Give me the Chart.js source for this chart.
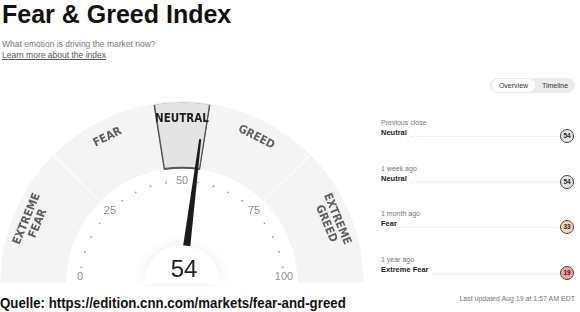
<!DOCTYPE html>
<html>
<head>
<meta charset="utf-8">
<title>Fear &amp; Greed Index</title>
<script src="https://cdn.jsdelivr.net/npm/chart.js"></script>
<style>
    body {
        margin: 0;
        width: 580px;
        height: 312px;
        overflow: hidden;
        position: relative;
        background: #fff;
        font-family: "Liberation Sans", Arial, sans-serif;
        color: #222;
    }
    h1 {
        position: absolute;
        left: 2px;
        top: 0;
        margin: 0;
        font-size: 25px;
        line-height: 29px;
        color: #111;
    }
    .sub {
        position: absolute;
        left: 2px;
        font-size: 8.5px;
        line-height: 11px;
        color: #777;
    }
    .sub.link { color: #555; text-decoration: underline; }
    #gauge {
        position: absolute;
        left: 0;
        top: 100px;
    }
    #toggle {
        position: absolute;
        left: 490px;
        top: 78px;
        width: 85px;
        height: 15px;
        border-radius: 8px;
        background: #ececec;
        font-size: 7px;
        line-height: 13px;
        color: #333;
    }
    #toggle span { position: absolute; top: 1px; height: 13px; text-align: center; }
    #toggle .on { left: 2px; width: 43px; background: #fff; border-radius: 7px; }
    #toggle .off { left: 47px; width: 36px; }
    .row {
        position: absolute;
        left: 381px;
        width: 194px;
        height: 30px;
    }
    .when { position: absolute; left: 0; top: 0; font-size: 7px; line-height: 11px; color: #777; }
    .rating { position: absolute; left: 0; top: 10px; font-size: 7.5px; line-height: 11px; font-weight: bold; color: #222; }
    .line { position: absolute; top: 19px; right: 16px; border-top: 1px dotted #e2e2e2; }
    .dot {
        position: absolute;
        right: 1px;
        top: 12px;
        width: 12px;
        height: 12px;
        border: 1px solid #444;
        border-radius: 50%;
        font-size: 6.5px;
        line-height: 12px;
        font-weight: bold;
        text-align: center;
        color: #222;
    }
    #updated {
        position: absolute;
        right: 5px;
        top: 293px;
        font-size: 7px;
        line-height: 11px;
        color: #777;
    }
    #source {
        position: absolute;
        left: 0;
        top: 294px;
        font-weight: bold;
        font-size: 14.5px;
        line-height: 18px;
        color: #111;
        white-space: nowrap;
        transform: scaleX(0.915);
        transform-origin: left center;
    }
</style>
</head>
<body>
    <h1>Fear &amp; Greed Index</h1>
    <div class="sub" style="top:39px">What emotion is driving the market now?</div>
    <div class="sub link" style="top:50px">Learn more about the index</div>
    <canvas id="gauge" width="364" height="186"></canvas>
    <div id="toggle"><span class="on">Overview</span><span class="off">Timeline</span></div>
    <div id="history"></div>
    <div id="updated">Last updated Aug 19 at 1:57 AM EDT</div>
    <div id="source">Quelle: https://edition.cnn.com/markets/fear-and-greed</div>

<script>
    // gauge zones (size of each zone on the 0-100 scale)
    const zoneNames = ['EXTREME FEAR', 'FEAR', 'NEUTRAL', 'GREED', 'EXTREME GREED'];
    const zoneSizes = [25, 20, 10, 20, 25];
    const currentZone = 'NEUTRAL';
    const currentValue = 54;

    // scale around the inside of the gauge
    const scaleLabels = [0, 25, 50, 75, 100];
    const minorTicks = [5, 10, 15, 20, 30, 35, 40, 45, 55, 60, 65, 70, 80, 85, 90, 95];

    // history panel
    const historyWhen = ['Previous close', '1 week ago', '1 month ago', '1 year ago'];
    const historyRating = ['Neutral', 'Neutral', 'Fear', 'Extreme Fear'];
    const historyValues = [54, 54, 33, 19];

    const zoneFill = { 'Extreme Fear': '#f5a3a3', 'Fear': '#fcd4be', 'Neutral': '#e6e6e6' };

    // history rows
    const hist = document.getElementById('history');
    historyWhen.forEach((w, i) => {
        const row = document.createElement('div');
        row.className = 'row';
        row.style.top = (117 + i * 45.7) + 'px';
        row.innerHTML =
            '<div class="when">' + w + '</div>' +
            '<div class="rating">' + historyRating[i] + '</div>' +
            '<div class="line"></div>' +
            '<div class="dot">' + historyValues[i] + '</div>';
        hist.appendChild(row);
        const textW = row.querySelector('.rating').offsetWidth;
        row.querySelector('.line').style.left = (textW + 4) + 'px';
        row.querySelector('.dot').style.background = zoneFill[historyRating[i]];
    });

    // angle on the half circle for a value 0..100, using the arcs chart.js laid out
    function angleOf(meta, v) {
        const first = meta.data[0], last = meta.data[meta.data.length - 1];
        return first.startAngle + (last.endAngle - first.startAngle) * v / 100;
    }

    const gaugeDecor = {
        id: 'gaugeDecor',
        afterDatasetsDraw(chart) {
            const ctx = chart.ctx;
            const meta = chart.getDatasetMeta(0);
            const arc0 = meta.data[0];
            const cx = arc0.x, cy = arc0.y;
            const R = arc0.outerRadius, r = arc0.innerRadius;

            // zone names
            ctx.save();
            ctx.textAlign = 'center';
            ctx.textBaseline = 'middle';
            meta.data.forEach((arc, i) => {
                const mid = (arc.startAngle + arc.endAngle) / 2;
                const words = zoneNames[i].split(' ');
                const rad = r + (R - r) * (words.length > 1 ? 0.72 : 0.75);
                ctx.save();
                ctx.translate(cx + Math.cos(mid) * rad, cy + Math.sin(mid) * rad);
                ctx.rotate(mid + Math.PI / 2);
                ctx.font = 'bold 11.5px "DejaVu Sans Condensed", "DejaVu Sans", sans-serif';
                ctx.fillStyle = zoneNames[i] === currentZone ? '#1e1e1e' : '#5e5e5e';
                words.forEach((w, k) => {
                    ctx.fillText(w, 0, (k - (words.length - 1) / 2) * 12);
                });
                ctx.restore();
            });
            ctx.restore();

            // minor dots and scale labels
            const tr = R * 0.565;
            ctx.save();
            ctx.fillStyle = '#9a9a9a';
            minorTicks.forEach(v => {
                const a = angleOf(meta, v);
                ctx.beginPath();
                ctx.arc(cx + Math.cos(a) * tr, cy + Math.sin(a) * tr, 0.9, 0, Math.PI * 2);
                ctx.fill();
            });
            ctx.font = '11px "Liberation Sans", Arial, sans-serif';
            ctx.textAlign = 'center';
            ctx.textBaseline = 'middle';
            ctx.fillStyle = '#8c8c8c';
            scaleLabels.forEach(v => {
                const a = angleOf(meta, v);
                const y = Math.min(cy + Math.sin(a) * tr, cy - 6);
                ctx.fillText(String(v), cx + Math.cos(a) * tr, y);
            });
            ctx.restore();

            // needle
            const na = angleOf(meta, currentValue);
            const ux = Math.cos(na), uy = Math.sin(na);
            const px = -uy, py = ux;
            const r0 = 20, r1 = R * 0.805;
            ctx.save();
            ctx.fillStyle = '#1b1b1b';
            ctx.beginPath();
            ctx.moveTo(cx + ux * r0 + px * 4, cy + uy * r0 + py * 4);
            ctx.lineTo(cx + ux * r1 + px * 1, cy + uy * r1 + py * 1);
            ctx.lineTo(cx + ux * r1 - px * 1, cy + uy * r1 - py * 1);
            ctx.lineTo(cx + ux * r0 - px * 4, cy + uy * r0 - py * 4);
            ctx.closePath();
            ctx.fill();
            ctx.restore();

            // hub
            ctx.save();
            ctx.shadowColor = 'rgba(0,0,0,0.08)';
            ctx.shadowBlur = 14;
            ctx.fillStyle = '#fff';
            ctx.beginPath();
            ctx.arc(cx, cy, 38, Math.PI, 2 * Math.PI);
            ctx.closePath();
            ctx.fill();
            ctx.restore();

            ctx.save();
            ctx.font = '24px "Liberation Sans", Arial, sans-serif';
            ctx.fillStyle = '#1e1e1e';
            ctx.textAlign = 'center';
            ctx.textBaseline = 'middle';
            ctx.fillText(String(currentValue), cx + 2, cy - 13);
            ctx.restore();
        }
    };

    new Chart(document.getElementById('gauge'), {
        type: 'doughnut',
        data: {
            labels: zoneNames,
            datasets: [{
                data: zoneSizes,
                backgroundColor: zoneNames.map(n => n === currentZone ? '#e4e4e4' : '#f4f4f4'),
                borderColor: '#555',
                borderWidth: zoneNames.map(n => n === currentZone ? 1 : 0),
                borderAlign: 'inner',
                spacing: 3
            }]
        },
        options: {
            responsive: false,
            animation: false,
            rotation: -90,
            circumference: 180,
            cutout: '63%',
            layout: { padding: 0 },
            plugins: { legend: { display: false }, tooltip: { enabled: false } }
        },
        plugins: [gaugeDecor]
    });
</script>
</body>
</html>
